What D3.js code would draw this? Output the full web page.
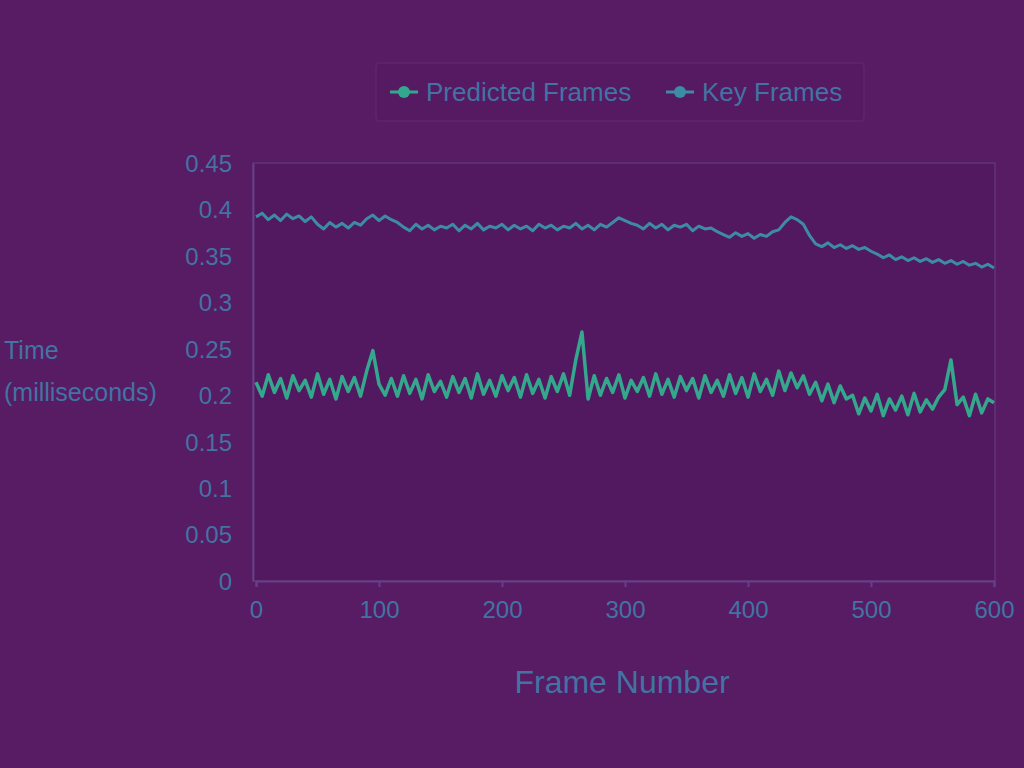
<!DOCTYPE html>
<html>
<head>
<meta charset="utf-8">
<script src="https://cdn.jsdelivr.net/npm/d3@7"></script>
<style>
  html, body { margin: 0; padding: 0; background: #571c64; }
  svg { display: block; }
  text { font-family: "Liberation Sans", Arial, sans-serif; }
</style>
</head>
<body>
<svg id="chart" width="1024" height="768"></svg>
<script>
// ---- data ----
const seriesNames = ["Predicted Frames", "Key Frames"];
const xTicks = [0, 100, 200, 300, 400, 500, 600];
const yTicks = [0, 0.05, 0.1, 0.15, 0.2, 0.25, 0.3, 0.35, 0.4, 0.45];
const frameStep = 5;
// Key frames (upper series), one value per 5 frames, 0..600
const keyFrameTimes = [
  0.392, 0.396, 0.389, 0.394, 0.388, 0.395, 0.390, 0.393, 0.387, 0.392,
  0.384, 0.379, 0.386, 0.381, 0.385, 0.380, 0.386, 0.383,
  0.390, 0.394, 0.388, 0.393, 0.389, 0.386,
  0.381, 0.377, 0.384, 0.379, 0.383, 0.378, 0.382, 0.380, 0.384, 0.377,
  0.383, 0.379, 0.385, 0.378, 0.382, 0.380, 0.384, 0.378, 0.383, 0.379,
  0.382, 0.377, 0.384, 0.380, 0.383, 0.378, 0.382, 0.380, 0.385, 0.379,
  0.383, 0.378, 0.384, 0.381, 0.386,
  0.391, 0.388, 0.385,
  0.383, 0.379, 0.385, 0.380, 0.384, 0.378, 0.383, 0.381, 0.384, 0.377, 0.382, 0.379, 0.380, 0.376,
  0.373, 0.370, 0.375, 0.371, 0.374, 0.369, 0.373, 0.371, 0.376, 0.378,
  0.386, 0.392, 0.389, 0.384,
  0.372, 0.363, 0.360, 0.364, 0.359, 0.362, 0.358, 0.361, 0.357, 0.359, 0.355,
  0.352, 0.348, 0.351, 0.346, 0.349, 0.345, 0.348, 0.344, 0.347, 0.343,
  0.346, 0.342, 0.345, 0.341, 0.344, 0.340, 0.342, 0.338, 0.341, 0.337
];
// Predicted frames (lower series)
const predictedFrameTimes = [
  0.214, 0.199, 0.222, 0.203, 0.218, 0.197, 0.221, 0.205, 0.216, 0.198,
  0.223, 0.201, 0.217, 0.196, 0.220, 0.204, 0.219, 0.199,
  0.226, 0.248, 0.212, 0.200,
  0.218, 0.199, 0.221, 0.202, 0.217, 0.196, 0.222, 0.204, 0.215, 0.198,
  0.220, 0.203, 0.218, 0.197, 0.223, 0.201, 0.216, 0.199, 0.221, 0.205,
  0.219, 0.198, 0.222, 0.202, 0.217, 0.197, 0.220, 0.204, 0.223, 0.200,
  0.238, 0.268, 0.196,
  0.221, 0.200, 0.218, 0.203, 0.222, 0.197, 0.216, 0.204, 0.219, 0.199,
  0.223, 0.201, 0.217, 0.198, 0.220, 0.205, 0.218, 0.197, 0.221, 0.203,
  0.216, 0.199, 0.222, 0.202, 0.219, 0.198, 0.223, 0.204, 0.217, 0.200,
  0.226, 0.205, 0.224, 0.208, 0.221, 0.201,
  0.214, 0.194, 0.212, 0.192, 0.210, 0.196,
  0.200, 0.180, 0.197, 0.183, 0.201, 0.178, 0.196, 0.184, 0.199, 0.179,
  0.202, 0.182, 0.195, 0.185, 0.198,
  0.206, 0.238, 0.190,
  0.198, 0.178, 0.201, 0.181, 0.196, 0.192
];

// ---- layout ----
const svg = d3.select("#chart");
const x = d3.scaleLinear().domain([0, 600]).range([256, 994]);
const y = d3.scaleLinear().domain([0, 0.45]).range([581, 163]);

const textCol = "#4373a3";
const frameCol = "#683f86";
const colors = ["#33a88c", "#3c8da3"];

// plot frame
svg.append("rect")
  .attr("x", 253).attr("y", 163).attr("width", 742).attr("height", 418)
  .attr("fill", "#531960").attr("stroke", frameCol).attr("stroke-width", 1);

// axes
const fmt = v => (v === 0 ? "0" : d3.format("~g")(v));
const xAxis = svg.append("g").attr("transform", "translate(0,581)")
  .call(d3.axisBottom(x).tickValues(xTicks).tickSize(6).tickPadding(14).tickFormat(d3.format("d")));
const yAxis = svg.append("g").attr("transform", "translate(253,0)")
  .call(d3.axisLeft(y).tickValues(yTicks).tickSize(0).tickPadding(21).tickFormat(fmt));
[xAxis, yAxis].forEach(g => {
  g.select(".domain").attr("stroke", frameCol).attr("stroke-width", 2);
  g.selectAll(".tick line").attr("stroke", frameCol).attr("stroke-width", 2);
  g.selectAll("text").attr("fill", textCol).style("font-size", "24px")
    .style("font-family", "'Liberation Sans', Arial, sans-serif");
});
yAxis.selectAll("text").attr("dy", "0.35em");

// lines
const xs = keyFrameTimes.map((_, i) => i * frameStep);
const line = d3.line().x(d => x(d[0])).y(d => y(d[1]));
const seriesData = [predictedFrameTimes, keyFrameTimes];
seriesData.forEach((vals, k) => {
  svg.append("path")
    .datum(vals.map((v, i) => [xs[i], v]))
    .attr("fill", "none")
    .attr("stroke", colors[k])
    .attr("stroke-width", k === 0 ? 3.5 : 3)
    .attr("stroke-linejoin", "round")
    .attr("d", line);
});

// legend
const lg = svg.append("g");
lg.append("rect").attr("x", 376).attr("y", 63).attr("width", 488).attr("height", 58)
  .attr("fill", "#551a62").attr("stroke", "#5e2a70").attr("stroke-width", 1).attr("rx", 3);
const items = [{ x: 390, name: seriesNames[0], c: colors[0] }, { x: 666, name: seriesNames[1], c: colors[1] }];
items.forEach(it => {
  lg.append("line").attr("x1", it.x).attr("x2", it.x + 28).attr("y1", 92).attr("y2", 92)
    .attr("stroke", it.c).attr("stroke-width", 3);
  lg.append("circle").attr("cx", it.x + 14).attr("cy", 92).attr("r", 6).attr("fill", it.c);
  lg.append("text").attr("x", it.x + 36).attr("y", 92).attr("dy", "0.35em")
    .attr("fill", textCol).style("font-size", "26px").text(it.name);
});

// axis titles
svg.append("text").attr("x", 622).attr("y", 682).attr("dy", "0.35em")
  .attr("text-anchor", "middle").attr("fill", textCol).style("font-size", "32px")
  .text("Frame Number");
const yl = svg.append("text").attr("text-anchor", "start").attr("fill", textCol).style("font-size", "25px");
yl.append("tspan").attr("x", 4).attr("y", 350).attr("dy", "0.35em").text("Time");
yl.append("tspan").attr("x", 4).attr("y", 392).attr("dy", "0.35em").text("(milliseconds)");
</script>
</body>
</html>
